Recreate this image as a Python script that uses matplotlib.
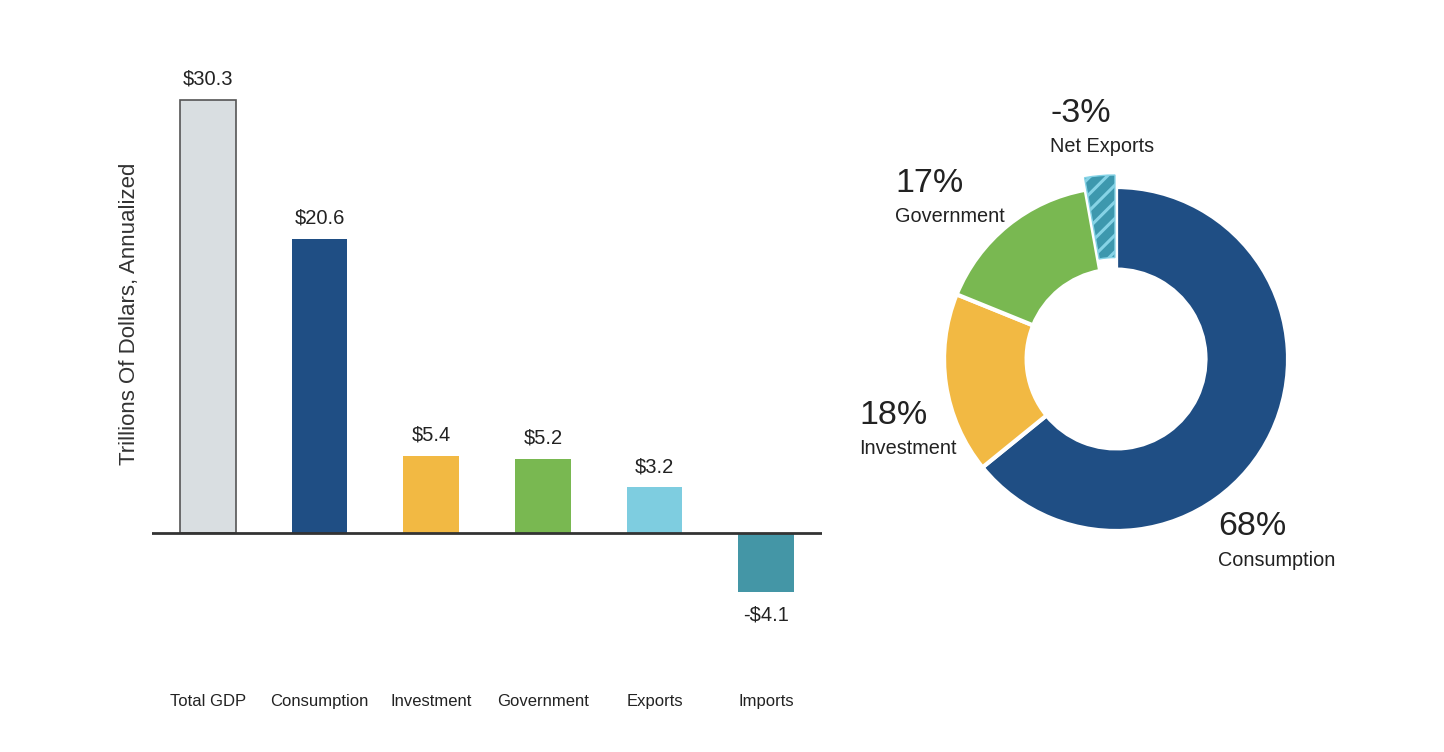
import matplotlib.pyplot as plt
import matplotlib as mpl

mpl.rcParams['font.family'] = ['Liberation Sans', 'DejaVu Sans']
mpl.rcParams['hatch.linewidth'] = 2.2

# bar chart data
categories = ['Total GDP', 'Consumption', 'Investment', 'Government', 'Exports', 'Imports']
values = [30.3, 20.6, 5.4, 5.2, 3.2, -4.1]
bar_colors = ['#d9dee1', '#1f4e84', '#f2b943', '#79b851', '#7ecde0', '#4496a6']

# donut data (shares of GDP, %)
pie_labels = ['Consumption', 'Investment', 'Government', 'Net Exports']
pie_pcts = [68, 18, 17, -3]
pie_colors = ['#1f4e84', '#f2b943', '#79b851', '#3d98ae']

W, H = 1444, 752
fig = plt.figure(figsize=(W / 100, H / 100), dpi=100)

# ---- bar chart ----
ax = fig.add_axes([152 / W, (H - 680) / H, (822 - 152) / W, 600 / H])
x = range(len(categories))
bars = ax.bar(x, values, width=0.5, color=bar_colors)
bars[0].set_edgecolor('#555555')
bars[0].set_linewidth(1.2)
ax.axhline(0, color='#333333', lw=2)
ax.set_xlim(-0.5, 5.5)
ax.set_ylim(-10.29, 31.7)
for s in ax.spines.values():
    s.set_visible(False)
ax.set_yticks([])
ax.set_xticks(list(x))
ax.set_xticklabels(categories, fontsize=12, color='#222222')
ax.tick_params(axis='x', length=0, pad=10)

for i, v in enumerate(values):
    lab = '$%.1f' % v if v >= 0 else '-$%.1f' % abs(v)
    if v >= 0:
        ax.annotate(lab, (i, v), xytext=(0, 8), textcoords='offset points',
                    ha='center', va='bottom', fontsize=14.5, color='#222222')
    else:
        ax.annotate(lab, (i, v), xytext=(0, -10), textcoords='offset points',
                    ha='center', va='top', fontsize=14.5, color='#222222')

fig.text(130 / W, 1 - 314 / H, 'Trillions Of Dollars, Annualized', rotation=90,
         ha='center', va='center', fontsize=16, color='#333333')

# ---- donut ----
pax = fig.add_axes([840 / W, (H - 620) / H, 560 / W, 560 / H])
sizes = [abs(p) for p in pie_pcts]
wedges, _ = pax.pie(sizes, colors=pie_colors, startangle=90, counterclock=False,
                    explode=[0, 0, 0, 0.07],
                    wedgeprops=dict(width=0.48, edgecolor='white', linewidth=3))
wedges[3].set_hatch('//')
wedges[3].set_edgecolor('#86d3e6')
wedges[3].set_linewidth(1)
pax.set_xlim(-1.605, 1.651)
pax.set_ylim(-1.517, 1.738)
pax.axis('off')

label_pos = [(0.593, -0.975), (-1.494, -0.326), (-1.285, 1.023), (-0.384, 1.43)]
for (lx, ly), name, p in zip(label_pos, pie_labels, pie_pcts):
    pax.text(lx, ly, '%d%%' % p, ha='left', va='center', fontsize=24.5, color='#222222')
    pax.text(lx, ly - 0.195, name, ha='left', va='center', fontsize=14.3, color='#222222')

fig.savefig('out.png', dpi=100, facecolor='white')
